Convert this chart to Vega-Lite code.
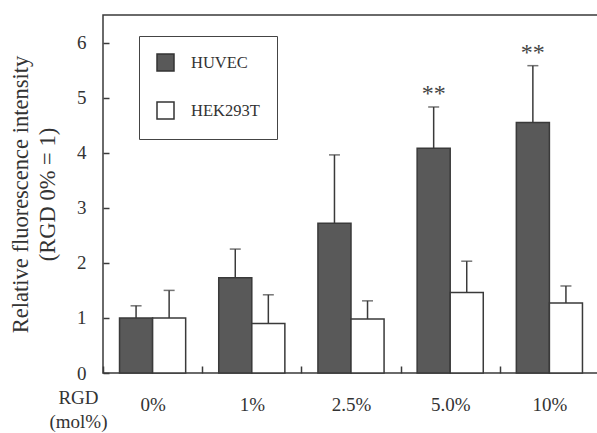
{
  "$schema": "https://vega.github.io/schema/vega-lite/v6.json",
  "width": 496,
  "height": 358,
  "autosize": {"type": "none"},
  "padding": {"left": 103, "top": 15, "right": 0, "bottom": 60},
  "background": "#ffffff",
  "config": {
    "view": {"stroke": "#3a3a3a", "strokeWidth": 1.5},
    "font": "Liberation Serif"
  },
  "data": {
    "values": [
      {"rgd": "0%", "cell": "HUVEC", "mean": 1.0, "upper": 1.22, "sig": ""},
      {"rgd": "0%", "cell": "HEK293T", "mean": 1.0, "upper": 1.5, "sig": ""},
      {"rgd": "1%", "cell": "HUVEC", "mean": 1.73, "upper": 2.25, "sig": ""},
      {"rgd": "1%", "cell": "HEK293T", "mean": 0.9, "upper": 1.42, "sig": ""},
      {"rgd": "2.5%", "cell": "HUVEC", "mean": 2.72, "upper": 3.96, "sig": ""},
      {"rgd": "2.5%", "cell": "HEK293T", "mean": 0.98, "upper": 1.31, "sig": ""},
      {"rgd": "5.0%", "cell": "HUVEC", "mean": 4.08, "upper": 4.83, "sig": "**"},
      {"rgd": "5.0%", "cell": "HEK293T", "mean": 1.46, "upper": 2.03, "sig": ""},
      {"rgd": "10%", "cell": "HUVEC", "mean": 4.55, "upper": 5.58, "sig": "**"},
      {"rgd": "10%", "cell": "HEK293T", "mean": 1.27, "upper": 1.58, "sig": ""}
    ]
  },
  "encoding": {
    "x": {
      "field": "rgd", "type": "nominal",
      "sort": ["0%", "1%", "2.5%", "5.0%", "10%"],
      "scale": {"paddingInner": 0, "paddingOuter": 0},
      "axis": {
        "domain": false, "tickBand": "extent", "tickSize": -7, "tickColor": "#3a3a3a", "tickWidth": 1.5,
        "labelAngle": 0, "labelFont": "Liberation Serif", "labelFontSize": 19, "labelColor": "#333",
        "labelPadding": 29, "labelBaseline": "top",
        "title": ["RGD", "(mol%)"], "titleFont": "Liberation Serif", "titleFontSize": 19, "titleFontWeight": "normal",
        "titleColor": "#333", "titleX": -25, "titleY": 15, "titleAlign": "center", "titleBaseline": "top", "titleLineHeight": 24
      }
    },
    "xOffset": {
      "field": "cell", "type": "nominal", "sort": ["HUVEC", "HEK293T"],
      "scale": {"paddingInner": 0, "paddingOuter": 0.5}
    }
  },
  "layer": [
    {
      "mark": {"type": "bar", "stroke": "#3a3a3a", "strokeWidth": 1.5},
      "encoding": {
        "y": {
          "field": "mean", "type": "quantitative",
          "scale": {"domain": [0, 6.5], "nice": false},
          "axis": {
            "values": [0, 1, 2, 3, 4, 5, 6], "domain": false, "grid": false,
            "tickSize": -6, "tickColor": "#3a3a3a", "tickWidth": 1.5,
            "labelFont": "Liberation Serif", "labelFontSize": 19, "labelColor": "#333", "labelPadding": 23,
            "title": ["Relative fluorescence intensity", "(RGD 0% = 1)"],
            "titleFont": "Liberation Serif", "titleFontSize": 22.5, "titleFontWeight": "normal", "titleColor": "#333",
            "titleLineHeight": 27, "titlePadding": 17
          }
        },
        "fill": {
          "field": "cell", "type": "nominal",
          "scale": {"domain": ["HUVEC", "HEK293T"], "range": ["#595959", "#ffffff"]},
          "legend": {
            "orient": "none", "legendX": 36, "legendY": 21, "title": null,
            "strokeColor": "#444", "padding": 17, "rowPadding": 25,
            "symbolType": "square", "symbolSize": 289, "symbolStrokeColor": "#333", "symbolStrokeWidth": 1.5,
            "labelFont": "Liberation Serif", "labelFontSize": 16.5, "labelColor": "#333", "labelOffset": 16
          }
        }
      }
    },
    {
      "mark": {"type": "rule", "stroke": "#3a3a3a", "strokeWidth": 1.5},
      "encoding": {
        "y": {"field": "mean", "type": "quantitative"},
        "y2": {"field": "upper"}
      }
    },
    {
      "mark": {"type": "tick", "orient": "horizontal", "color": "#3a3a3a", "size": 11, "thickness": 1.5},
      "encoding": {
        "y": {"field": "upper", "type": "quantitative"}
      }
    },
    {
      "mark": {"type": "text", "fontSize": 24, "font": "Liberation Serif", "color": "#444", "baseline": "alphabetic", "dy": -6},
      "encoding": {
        "y": {"field": "upper", "type": "quantitative"},
        "text": {"field": "sig"}
      }
    }
  ]
}
